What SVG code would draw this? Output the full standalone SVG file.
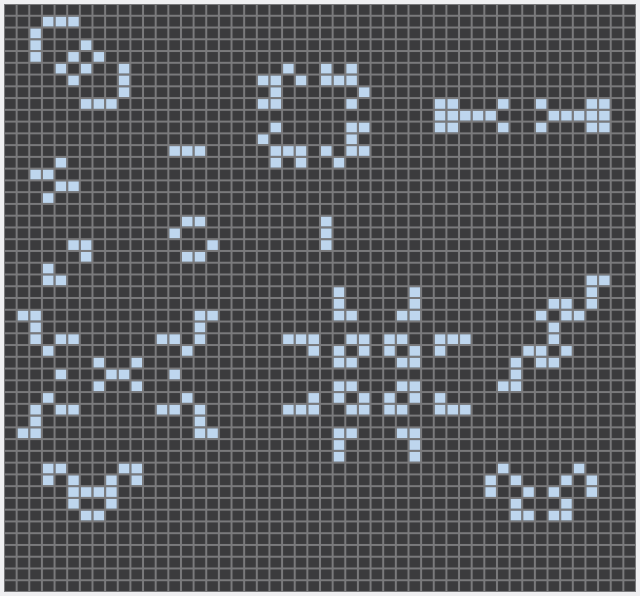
<svg xmlns="http://www.w3.org/2000/svg" xmlns:xlink="http://www.w3.org/1999/xlink" width="640" height="596" viewBox="0 0 640 596">
<defs>
<style>
.bg{fill:#efeff1}
.line{fill:#7a7a7c}
.alive{fill:#bed6ee}
</style>
<pattern id="grid" patternUnits="userSpaceOnUse" x="0" y="0" width="1" height="1">
<rect x="0.08" y="0.085" width="0.84" height="0.83" fill="#3b3b3d"/>
</pattern>
<rect id="a" x="0.08" y="0.085" width="0.84" height="0.83"/>
</defs>
<rect class="bg" width="640" height="596"/>
<g id="board" transform="translate(4,4) scale(12.64,11.76)">
<rect class="line" width="50" height="50"/>
<rect width="50" height="50" fill="url(#grid)"/>
<g id="cells" class="alive">
<use href="#a" x="3" y="1"/><use href="#a" x="4" y="1"/><use href="#a" x="5" y="1"/>
<use href="#a" x="2" y="2"/>
<use href="#a" x="2" y="3"/><use href="#a" x="6" y="3"/>
<use href="#a" x="2" y="4"/><use href="#a" x="5" y="4"/><use href="#a" x="7" y="4"/>
<use href="#a" x="4" y="5"/><use href="#a" x="6" y="5"/><use href="#a" x="9" y="5"/><use href="#a" x="22" y="5"/><use href="#a" x="25" y="5"/><use href="#a" x="27" y="5"/>
<use href="#a" x="5" y="6"/><use href="#a" x="9" y="6"/><use href="#a" x="20" y="6"/><use href="#a" x="21" y="6"/><use href="#a" x="23" y="6"/><use href="#a" x="25" y="6"/><use href="#a" x="26" y="6"/><use href="#a" x="27" y="6"/>
<use href="#a" x="9" y="7"/><use href="#a" x="21" y="7"/><use href="#a" x="28" y="7"/>
<use href="#a" x="6" y="8"/><use href="#a" x="7" y="8"/><use href="#a" x="8" y="8"/><use href="#a" x="20" y="8"/><use href="#a" x="21" y="8"/><use href="#a" x="27" y="8"/><use href="#a" x="34" y="8"/><use href="#a" x="35" y="8"/><use href="#a" x="39" y="8"/><use href="#a" x="42" y="8"/><use href="#a" x="46" y="8"/><use href="#a" x="47" y="8"/>
<use href="#a" x="34" y="9"/><use href="#a" x="35" y="9"/><use href="#a" x="36" y="9"/><use href="#a" x="37" y="9"/><use href="#a" x="38" y="9"/><use href="#a" x="43" y="9"/><use href="#a" x="44" y="9"/><use href="#a" x="45" y="9"/><use href="#a" x="46" y="9"/><use href="#a" x="47" y="9"/>
<use href="#a" x="21" y="10"/><use href="#a" x="27" y="10"/><use href="#a" x="28" y="10"/><use href="#a" x="34" y="10"/><use href="#a" x="35" y="10"/><use href="#a" x="39" y="10"/><use href="#a" x="42" y="10"/><use href="#a" x="46" y="10"/><use href="#a" x="47" y="10"/>
<use href="#a" x="20" y="11"/><use href="#a" x="27" y="11"/>
<use href="#a" x="13" y="12"/><use href="#a" x="14" y="12"/><use href="#a" x="15" y="12"/><use href="#a" x="21" y="12"/><use href="#a" x="22" y="12"/><use href="#a" x="23" y="12"/><use href="#a" x="25" y="12"/><use href="#a" x="27" y="12"/><use href="#a" x="28" y="12"/>
<use href="#a" x="4" y="13"/><use href="#a" x="21" y="13"/><use href="#a" x="23" y="13"/><use href="#a" x="26" y="13"/>
<use href="#a" x="2" y="14"/><use href="#a" x="3" y="14"/>
<use href="#a" x="4" y="15"/><use href="#a" x="5" y="15"/>
<use href="#a" x="3" y="16"/>
<use href="#a" x="14" y="18"/><use href="#a" x="15" y="18"/><use href="#a" x="25" y="18"/>
<use href="#a" x="13" y="19"/><use href="#a" x="25" y="19"/>
<use href="#a" x="5" y="20"/><use href="#a" x="6" y="20"/><use href="#a" x="16" y="20"/><use href="#a" x="25" y="20"/>
<use href="#a" x="6" y="21"/><use href="#a" x="14" y="21"/><use href="#a" x="15" y="21"/>
<use href="#a" x="3" y="22"/>
<use href="#a" x="3" y="23"/><use href="#a" x="4" y="23"/><use href="#a" x="46" y="23"/><use href="#a" x="47" y="23"/>
<use href="#a" x="26" y="24"/><use href="#a" x="32" y="24"/><use href="#a" x="46" y="24"/>
<use href="#a" x="26" y="25"/><use href="#a" x="32" y="25"/><use href="#a" x="43" y="25"/><use href="#a" x="44" y="25"/><use href="#a" x="46" y="25"/>
<use href="#a" x="1" y="26"/><use href="#a" x="2" y="26"/><use href="#a" x="15" y="26"/><use href="#a" x="16" y="26"/><use href="#a" x="26" y="26"/><use href="#a" x="27" y="26"/><use href="#a" x="31" y="26"/><use href="#a" x="32" y="26"/><use href="#a" x="42" y="26"/><use href="#a" x="44" y="26"/><use href="#a" x="45" y="26"/>
<use href="#a" x="2" y="27"/><use href="#a" x="15" y="27"/><use href="#a" x="43" y="27"/>
<use href="#a" x="2" y="28"/><use href="#a" x="4" y="28"/><use href="#a" x="5" y="28"/><use href="#a" x="12" y="28"/><use href="#a" x="13" y="28"/><use href="#a" x="15" y="28"/><use href="#a" x="22" y="28"/><use href="#a" x="23" y="28"/><use href="#a" x="24" y="28"/><use href="#a" x="27" y="28"/><use href="#a" x="28" y="28"/><use href="#a" x="30" y="28"/><use href="#a" x="31" y="28"/><use href="#a" x="34" y="28"/><use href="#a" x="35" y="28"/><use href="#a" x="36" y="28"/><use href="#a" x="43" y="28"/>
<use href="#a" x="3" y="29"/><use href="#a" x="14" y="29"/><use href="#a" x="24" y="29"/><use href="#a" x="26" y="29"/><use href="#a" x="28" y="29"/><use href="#a" x="30" y="29"/><use href="#a" x="32" y="29"/><use href="#a" x="34" y="29"/><use href="#a" x="41" y="29"/><use href="#a" x="42" y="29"/><use href="#a" x="44" y="29"/>
<use href="#a" x="7" y="30"/><use href="#a" x="10" y="30"/><use href="#a" x="26" y="30"/><use href="#a" x="27" y="30"/><use href="#a" x="31" y="30"/><use href="#a" x="32" y="30"/><use href="#a" x="40" y="30"/><use href="#a" x="42" y="30"/><use href="#a" x="43" y="30"/>
<use href="#a" x="4" y="31"/><use href="#a" x="8" y="31"/><use href="#a" x="9" y="31"/><use href="#a" x="13" y="31"/><use href="#a" x="40" y="31"/>
<use href="#a" x="7" y="32"/><use href="#a" x="10" y="32"/><use href="#a" x="26" y="32"/><use href="#a" x="27" y="32"/><use href="#a" x="31" y="32"/><use href="#a" x="32" y="32"/><use href="#a" x="39" y="32"/><use href="#a" x="40" y="32"/>
<use href="#a" x="3" y="33"/><use href="#a" x="14" y="33"/><use href="#a" x="24" y="33"/><use href="#a" x="26" y="33"/><use href="#a" x="28" y="33"/><use href="#a" x="30" y="33"/><use href="#a" x="32" y="33"/><use href="#a" x="34" y="33"/>
<use href="#a" x="2" y="34"/><use href="#a" x="4" y="34"/><use href="#a" x="5" y="34"/><use href="#a" x="12" y="34"/><use href="#a" x="13" y="34"/><use href="#a" x="15" y="34"/><use href="#a" x="22" y="34"/><use href="#a" x="23" y="34"/><use href="#a" x="24" y="34"/><use href="#a" x="27" y="34"/><use href="#a" x="28" y="34"/><use href="#a" x="30" y="34"/><use href="#a" x="31" y="34"/><use href="#a" x="34" y="34"/><use href="#a" x="35" y="34"/><use href="#a" x="36" y="34"/>
<use href="#a" x="2" y="35"/><use href="#a" x="15" y="35"/>
<use href="#a" x="1" y="36"/><use href="#a" x="2" y="36"/><use href="#a" x="15" y="36"/><use href="#a" x="16" y="36"/><use href="#a" x="26" y="36"/><use href="#a" x="27" y="36"/><use href="#a" x="31" y="36"/><use href="#a" x="32" y="36"/>
<use href="#a" x="26" y="37"/><use href="#a" x="32" y="37"/>
<use href="#a" x="26" y="38"/><use href="#a" x="32" y="38"/>
<use href="#a" x="3" y="39"/><use href="#a" x="4" y="39"/><use href="#a" x="9" y="39"/><use href="#a" x="10" y="39"/><use href="#a" x="39" y="39"/><use href="#a" x="45" y="39"/>
<use href="#a" x="3" y="40"/><use href="#a" x="5" y="40"/><use href="#a" x="8" y="40"/><use href="#a" x="10" y="40"/><use href="#a" x="38" y="40"/><use href="#a" x="40" y="40"/><use href="#a" x="44" y="40"/><use href="#a" x="46" y="40"/>
<use href="#a" x="5" y="41"/><use href="#a" x="6" y="41"/><use href="#a" x="7" y="41"/><use href="#a" x="8" y="41"/><use href="#a" x="38" y="41"/><use href="#a" x="41" y="41"/><use href="#a" x="43" y="41"/><use href="#a" x="46" y="41"/>
<use href="#a" x="5" y="42"/><use href="#a" x="8" y="42"/><use href="#a" x="40" y="42"/><use href="#a" x="44" y="42"/>
<use href="#a" x="6" y="43"/><use href="#a" x="7" y="43"/><use href="#a" x="40" y="43"/><use href="#a" x="41" y="43"/><use href="#a" x="43" y="43"/><use href="#a" x="44" y="43"/>
</g>
</g>
</svg>
